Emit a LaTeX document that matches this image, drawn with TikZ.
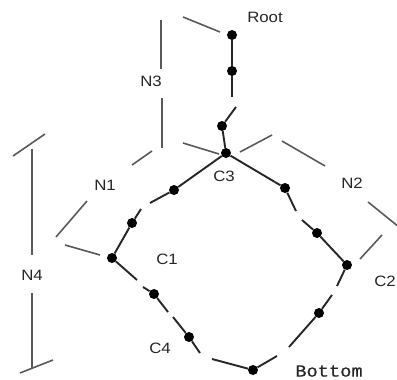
\documentclass[tikz,border=0pt]{standalone}
\usepackage{fontspec}
\newfontfamily\labelfont[FakeStretch=1.12]{Liberation Sans}
\newfontfamily\bottomfont[FakeStretch=1.1, FakeBold=0.5]{Liberation Mono}
\usetikzlibrary{calc}

\begin{document}
\begin{tikzpicture}[
    x=1pt, y=-1pt,
    % Node styles
    dot/.style={
        circle, fill=black, inner sep=0pt, minimum size=10pt
    },
    lbl/.style={
        font=\labelfont\fontsize{15}{15}\selectfont, text=black!85, inner sep=0pt
    },
    bottomlbl/.style={
        font=\bottomfont\fontsize{17}{17}\selectfont, text=black!85, inner sep=0pt
    },
    seg/.style={
        line width=1.9pt, black!85
    },
    brk/.style={
        line width=1.6pt, black!65
    }
]
\useasboundingbox (0,0) rectangle (397,380);

% --- Dots on the tree ---
\node[dot] (root) at (232,35) {};
\node[dot] (r2) at (232,71) {};
\node[dot] (r3) at (222,126) {};
\node[dot] (c3) at (226,153) {};
\node[dot] (ra) at (285,188) {};
\node[dot] (rb) at (317,233) {};
\node[dot] (c2) at (347,265) {};
\node[dot] (rc) at (319,313) {};
\node[dot] (bot) at (253,370) {};
\node[dot] (le) at (189,337) {};
\node[dot] (ld) at (154,294) {};
\node[dot] (c1) at (112,258) {};
\node[dot] (lb) at (132,223) {};
\node[dot] (la) at (174,190) {};

% --- Breaks in the path ---
\coordinate (g1a) at (232,97);  \coordinate (g1b) at (236,107);
\coordinate (g2a) at (296,211); \coordinate (g2b) at (302,220);
\coordinate (g3a) at (337,286); \coordinate (g3b) at (332,295);
\coordinate (g4a) at (289,347); \coordinate (g4b) at (277,356);
\coordinate (g5a) at (212,359); \coordinate (g5b) at (200,353);
\coordinate (g6a) at (173,317); \coordinate (g6b) at (168,312);
\coordinate (g7a) at (143,287); \coordinate (g7b) at (137,280);
\coordinate (g8a) at (141,209); \coordinate (g8b) at (150,203);

% --- Path ---
\draw[seg] (root) -- (r2);
\draw[seg] (r2) -- (g1a);  \draw[seg] (g1b) -- (r3);
\draw[seg] (r3) -- (c3);
\draw[seg] (c3) -- (ra);
\draw[seg] (ra) -- (g2a);  \draw[seg] (g2b) -- (rb);
\draw[seg] (rb) -- (c2);
\draw[seg] (c2) -- (g3a);  \draw[seg] (g3b) -- (rc);
\draw[seg] (rc) -- (g4a);  \draw[seg] (g4b) -- (bot);
\draw[seg] (bot) -- (g5a); \draw[seg] (g5b) -- (le);
\draw[seg] (le) -- (g6a);  \draw[seg] (g6b) -- (ld);
\draw[seg] (ld) -- (g7a);  \draw[seg] (g7b) -- (c1);
\draw[seg] (c1) -- (lb);
\draw[seg] (lb) -- (g8a);  \draw[seg] (g8b) -- (la);
\draw[seg] (la) -- (c3);

% --- Labels ---
\node[lbl] (lroot) at (265,17) {Root};
\node[lbl] (lc3) at (224,176) {C3};
\node[lbl] (lc1) at (167,259) {C1};
\node[lbl] (lc2) at (385,281) {C2};
\node[lbl] (lc4) at (160,348) {C4};
\node[bottomlbl] (lbot) at (329,371) {Bottom};
\node[lbl] (ln3) at (151,81) {N3};
\node[lbl] (ln1) at (105,185) {N1};
\node[lbl] (ln2) at (352,183) {N2};
\node[lbl] (ln4) at (32,275) {N4};

% --- Brackets ---
% N3
\draw[brk] (161,20) -- (161,69);
\draw[brk] (162,98) -- (162,148);
\draw[brk] (183,17) -- (220,32);
\draw[brk] (183,143) -- (219,154);
% N1
\draw[brk] (65,245) -- (100,255);
\draw[brk] (56,237) -- (87,201);
\draw[brk] (132,165) -- (152,151);
% N2
\draw[brk] (240,152) -- (272,135);
\draw[brk] (282,141) -- (325,166);
\draw[brk] (368,202) -- (399,227);
\draw[brk] (382,235) -- (360,259);
% N4
\draw[brk] (32,149) -- (32,255);
\draw[brk] (32,293) -- (32,368);
\draw[brk] (13,156) -- (45,134);
\draw[brk] (20,373) -- (53,360);

\end{tikzpicture}
\end{document}
